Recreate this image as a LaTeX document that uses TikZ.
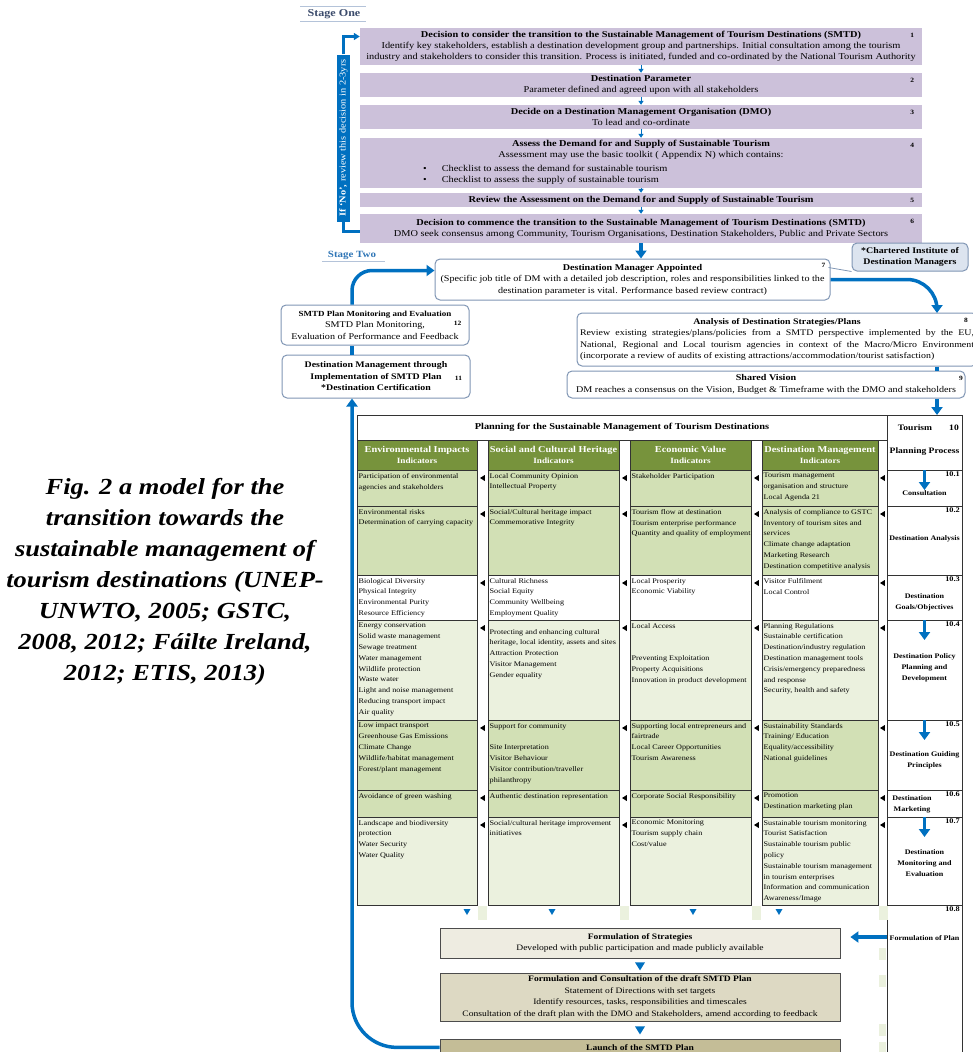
\documentclass[tikz,border=0pt]{standalone}
\usepackage{fontspec}
\setmainfont{Liberation Serif}[FakeStretch=1.15]
\usetikzlibrary{positioning,arrows.meta,calc}
\definecolor{cazul}{HTML}{0070C0}
\definecolor{clila}{HTML}{CCC1DA}
\definecolor{cborde}{HTML}{8096B4}
\definecolor{ccel}{HTML}{DCE4EF}
\definecolor{colivo}{HTML}{77933C}
\definecolor{cverdem}{HTML}{D2E0B5}
\definecolor{cverdec}{HTML}{EBF1DE}
\definecolor{cbeige1}{HTML}{EEECE1}
\definecolor{cbeige2}{HTML}{DDD9C3}
\definecolor{cbeige3}{HTML}{C4BD97}
\definecolor{cetapa}{HTML}{3B4B6B}
\definecolor{cazulc}{HTML}{2E75B6}
\definecolor{clinea}{HTML}{B4C3D9}
\tikzset{
  etapa/.style={rectangle, fill=clila, minimum width=562, inner sep=1pt, align=center,
    font=\fontsize{9}{11.2}\selectfont},
  num/.style={font=\fontsize{6.5}{7}\selectfont\bfseries, inner sep=0pt},
  caja/.style={rectangle, rounded corners=5pt, draw=cborde, line width=1pt, fill=white,
    inner sep=1pt, align=center, font=\fontsize{8.8}{11.5}\selectfont},
  barra/.style={rectangle, fill=cazul, text=white, rotate=90, minimum width=167,
    minimum height=13, inner sep=0pt, font=\fontsize{9}{9.5}\selectfont},
  lazo/.style={draw=cazul, line width=2.5pt},
  gruesa/.style={draw=cazul, line width=3.5pt},
  flechita/.style={-{Triangle[length=4pt,width=5pt]}, draw=cazul, line width=1pt},
  flechag/.style={gruesa, -{Triangle[length=8pt,width=11pt]}},
  flechap/.style={-{Triangle[length=8pt,width=11pt]}, draw=cazul, line width=3pt},
  celda/.style={rectangle, draw=black!80, line width=0.6pt, anchor=north west,
    inner sep=0pt, outer sep=0pt},
  celdatxt/.style={anchor=north west, align=left, inner xsep=1.5pt, inner ysep=3pt,
    font=\fontsize{7.1}{10.8}\selectfont},
  cab/.style={celda, fill=colivo, minimum height=30, text=white, align=center,
    font=\fontsize{9}{11}\selectfont\bfseries},
  pcelda/.style={celda, minimum width=75, fill=white},
  pnum/.style={anchor=north east, inner sep=2pt, font=\fontsize{7.2}{8}\selectfont\bfseries},
  ptxt/.style={align=center, inner sep=0pt, font=\fontsize{7}{11}\selectfont\bfseries},
  plan/.style={rectangle, draw=black!70, line width=0.8pt, minimum width=400, inner sep=1pt,
    align=center, font=\fontsize{8.3}{11.6}\selectfont},
  leyenda/.style={align=center, font=\fontsize{23}{31}\selectfont\bfseries\itshape},
  etiqueta/.style={font=\fontsize{9.5}{12}\selectfont\bfseries, inner sep=1pt},
}
\newcommand{\cabsub}[1]{{\fontsize{8}{9.5}\selectfont #1}}
% one row of indicator cells: id, top, height, fill, four texts
\newcommand{\fila}[8]{%
  \node[celda, fill=#4, minimum width=120, minimum height=#3] (#1a) at (357,#2) {};
  \node[celdatxt] (#1at) at (#1a.north west) {#5};
  \node[celda, fill=#4, minimum width=131, minimum height=#3] (#1b) at (488,#2) {};
  \node[celdatxt] (#1bt) at (#1b.north west) {#6};
  \node[celda, fill=#4, minimum width=121, minimum height=#3] (#1c) at (630,#2) {};
  \node[celdatxt] (#1ct) at (#1c.north west) {#7};
  \node[celda, fill=#4, minimum width=116, minimum height=#3] (#1d) at (762,#2) {};
  \node[celdatxt] (#1dt) at (#1d.north west) {#8};
  \foreach \gx in {482.5,624.5,756.5,882.5}
    \fill (\gx+2.3,#2+5) -- (\gx+2.3,#2+11) -- (\gx-2.5,#2+8) -- cycle;
}
% one cell of the planning process column
\newcommand{\paso}[4]{%
  \node[pcelda, minimum height=#3] (#1) at (887,#2) {};
  \node[pnum] (#1n) at (#1.north east) {#4};
}

\begin{document}
\begin{tikzpicture}[x=1pt,y=-1pt]
  \useasboundingbox (0,0) rectangle (973,1052);
  \clip (0,0) rectangle (973,1052);

  % Stage One
  \node[etiqueta, text=cetapa, font=\fontsize{10.5}{12}\selectfont\bfseries] (s1) at (334,14) {Stage One};
  \draw[clinea, line width=1pt] ($(s1.north west)+(-6,-2)$) -- ($(s1.north east)+(4,-2)$)
    ($(s1.south west)+(-6,2)$) -- ($(s1.south east)+(4,2)$);

  \node[etapa, minimum height=37] (b1) at (641,46.5) {\textbf{Decision to consider the transition to the Sustainable Management of Tourism Destinations (SMTD)}\\Identify key stakeholders, establish a destination development group and partnerships. Initial consultation among the tourism\\industry and stakeholders to consider this transition. Process is initiated, funded and co-ordinated by the National Tourism Authority};
  \node[etapa, minimum height=24] (b2) at (641,85) {\textbf{Destination Parameter}\\Parameter defined and agreed upon with all stakeholders};
  \node[etapa, minimum height=24] (b3) at (641,117) {\textbf{Decide on a Destination Management Organisation (DMO)}\\To lead and co-ordinate};
  \node[etapa, minimum height=50] (b4) at (641,163) {};
  \node[anchor=north, inner sep=0pt, align=center, font=\fontsize{9}{11.2}\selectfont] (b4t) at ($(b4.north)+(0,2)$) {\textbf{Assess the Demand for and Supply of Sustainable Tourism}\\Assessment may use the basic toolkit ( Appendix N) which contains:};
  \node[anchor=west, inner sep=0pt, font=\fontsize{9}{11.2}\selectfont] (b4a) at (423,168) {\textbullet\hspace{15pt}Checklist to assess the demand for sustainable tourism};
  \node[anchor=west, inner sep=0pt, font=\fontsize{9}{11.2}\selectfont] (b4b) at (423,180.5) {\textbullet\hspace{15pt}Checklist to assess the supply of sustainable tourism};
  \node[etapa, minimum height=14] (b5) at (641,200) {\textbf{Review the Assessment on the Demand for and Supply of Sustainable Tourism}};
  \node[etapa, minimum height=29] (b6) at (641,228.5) {\textbf{Decision to commence the transition to the Sustainable Management of Tourism Destinations (SMTD)}\\DMO seek consensus among Community, Tourism Organisations, Destination Stakeholders, Public and Private Sectors};
  \foreach \b/\n in {b1/1,b2/2,b3/3,b4/4,b5/5,b6/6}
    \node[num] (n\n) at ($(\b.north east)+(-10,8)$) {\n};
  \foreach \a/\b in {b1/b2,b2/b3,b3/b4,b4/b5,b5/b6}
    \draw[flechita] (\a.south) -- (\b.north);

  % review loop
  \node[barra] (rev) at (343.5,138) {\textbf{If `No',} review this decision in 2-3yrs};
  \draw[lazo, -{Triangle[length=6pt,width=7pt]}] (rev.east) |- ($(b1.west)+(0,-10)$);
  \draw[lazo] (rev.west) |- ($(b6.west)+(0,3)$);

  % Stage Two
  \node[etiqueta, text=cazulc] (s2) at (352,255) {Stage Two};
  \draw[clinea, line width=1pt] ($(s2.south west)+(-5,1)$) -- ($(s2.south east)+(8,1)$);

  \node[caja, minimum width=395, minimum height=41] (b7) at (632.5,279.5) {\textbf{Destination Manager Appointed}\\(Specific job title of DM with a detailed job description, roles and responsibilities linked to the\\destination parameter is vital. Performance based review contract)};
  \node[num] (n7) at ($(b7.north east)+(-7,7)$) {7};
  \node[caja, fill=ccel, minimum width=116, minimum height=28, font=\fontsize{8.6}{11.5}\selectfont\bfseries] (cI) at (910,257) {*Chartered Institute of\\Destination Managers};
  \draw[cborde, line width=0.8pt] ($(b7.north east)+(-2,9)$) -- (cI.south west);

  \node[caja, minimum width=400, minimum height=53, font=\fontsize{8.6}{11.5}\selectfont] (b8) at (777,339.5) {\textbf{Analysis of Destination Strategies/Plans}\\\makebox[394pt][s]{Review existing strategies/plans/policies from a SMTD perspective implemented by the EU,}\\\makebox[394pt][s]{National, Regional and Local tourism agencies in context of the Macro/Micro Environment}\\\makebox[394pt][l]{(incorporate a review of audits of existing attractions/accommodation/tourist satisfaction)}};
  \node[num] (n8) at (966,320) {8};
  \node[caja, minimum width=398, minimum height=27] (b9) at (766,384.5) {\textbf{Shared Vision}\\DM reaches a consensus on the Vision, Budget \& Timeframe with the DMO and stakeholders};
  \node[num] (n9) at (961,378) {9};

  \node[caja, minimum width=188, minimum height=40] (b12) at (375,325) {{\fontsize{7.8}{11.5}\selectfont\bfseries SMTD Plan Monitoring and Evaluation}\\SMTD Plan Monitoring,\\Evaluation of Performance and Feedback};
  \node[num] (n12) at ($(b12.east)+(-12,-2)$) {12};
  \node[caja, minimum width=188, minimum height=43, font=\fontsize{8.6}{11.5}\selectfont\bfseries] (b11) at (376,376.5) {Destination Management through\\Implementation of SMTD Plan\\*Destination Certification};
  \node[num] (n11) at ($(b11.east)+(-12,1.5)$) {11};

  \coordinate (xl) at (352,0);
  \coordinate (e7) at ($(b7.west)+(0,-9)$);
  \coordinate (e8) at (937,313);
  \draw[flechag] (b6.south) -- (b6.south |- b7.north);
  \draw[flechag, rounded corners=30pt] (b7.east) -| (e8);
  \draw[gruesa] (b8.south -| e8) -- (b9.north -| e8);
  \draw[flechag, rounded corners=20pt] (b12.north -| xl) |- (e7);
  \draw[gruesa] (b11.north -| xl) -- (b12.south -| xl);

  % planning table
  \node[celda, minimum width=530, minimum height=25] (tit) at (357,415) {};
  \node[font=\fontsize{9}{11}\selectfont\bfseries] (titt) at (tit.center) {Planning for the Sustainable Management of Tourism Destinations};
  \node[pcelda, minimum height=55] (p0) at (887,415) {};
  \node[ptxt, font=\fontsize{8.3}{11}\selectfont\bfseries] (p0a) at (915,428) {Tourism};
  \node[ptxt, font=\fontsize{8.3}{11}\selectfont\bfseries] (p0b) at (954,428) {10};
  \node[ptxt, font=\fontsize{8.3}{11}\selectfont\bfseries] (p0c) at (924.5,452) {Planning Process};
  \draw[flechag] (b9.south -| e8) -- (p0.north -| e8);

  \node[cab, minimum width=120] (ha) at (357,440) {Environmental Impacts\\\cabsub{Indicators}};
  \node[cab, minimum width=131] (hb) at (488,440) {Social and Cultural Heritage\\\cabsub{Indicators}};
  \node[cab, minimum width=121] (hc) at (630,440) {Economic Value\\\cabsub{Indicators}};
  \node[cab, minimum width=116] (hd) at (762,440) {Destination Management\\\cabsub{Indicators}};

  \fila{r1}{470}{36}{cverdem}
    {Participation of environmental\\agencies and stakeholders}
    {Local Community Opinion\\Intellectual Property}
    {Stakeholder Participation}
    {Tourism management\\organisation and structure\\Local Agenda 21}
  \fila{r2}{506}{69}{cverdem}
    {Environmental risks\\Determination of carrying capacity}
    {Social/Cultural heritage impact\\Commemorative Integrity}
    {Tourism flow at destination\\Tourism enterprise performance\\Quantity and quality of employment}
    {Analysis of compliance to GSTC\\Inventory of tourism sites and\\services\\Climate change adaptation\\Marketing Research\\Destination competitive analysis}
  \fila{r3}{575}{45}{white}
    {Biological Diversity\\Physical Integrity\\Environmental Purity\\Resource Efficiency}
    {Cultural Richness\\Social Equity\\Community Wellbeing\\Employment Quality}
    {Local Prosperity\\Economic Viability}
    {Visitor Fulfilment\\Local Control}
  \fila{r4}{620}{100}{cverdec}
    {Energy conservation\\Solid waste management\\Sewage treatment\\Water management\\Wildlife protection\\Waste water\\Light and noise management\\Reducing transport impact\\Air quality}
    {\mbox{}\\Protecting and enhancing cultural\\heritage, local identity, assets and sites\\Attraction Protection\\Visitor Management\\Gender equality}
    {Local Access\\\mbox{}\\\mbox{}\\Preventing Exploitation\\Property Acquisitions\\Innovation in product development}
    {Planning Regulations\\Sustainable certification\\Destination/industry regulation\\Destination management tools\\Crisis/emergency preparedness\\and response\\Security, health and safety}
  \fila{r5}{720}{70}{cverdem}
    {Low impact transport\\Greenhouse Gas Emissions\\Climate Change\\Wildlife/habitat management\\Forest/plant management}
    {Support for community\\\mbox{}\\Site Interpretation\\Visitor Behaviour\\Visitor contribution/traveller\\philanthropy}
    {Supporting local entrepreneurs and\\fairtrade\\Local Career Opportunities\\Tourism Awareness}
    {Sustainability Standards\\Training/ Education\\Equality/accessibility\\National guidelines}
  \fila{r6}{790}{27}{cverdem}
    {Avoidance of green washing}
    {Authentic destination representation}
    {Corporate Social Responsibility}
    {Promotion\\Destination marketing plan}
  \fila{r7}{817}{88}{cverdec}
    {Landscape and biodiversity\\protection\\Water Security\\Water Quality}
    {Social/cultural heritage improvement\\initiatives}
    {Economic Monitoring\\Tourism supply chain\\Cost/value}
    {Sustainable tourism monitoring\\Tourist Satisfaction\\Sustainable tourism public\\policy\\Sustainable tourism management\\in tourism enterprises\\Information and communication\\Awareness/Image}

  % planning process column
  \paso{p1}{470}{36}{10.1}
  \node[ptxt] (p1t) at (924.5,493) {Consultation};
  \paso{p2}{506}{69}{10.2}
  \node[ptxt] (p2t) at (924.5,539) {Destination Analysis};
  \paso{p3}{575}{45}{10.3}
  \node[ptxt] (p3t) at (924.5,602) {Destination\\Goals/Objectives};
  \paso{p4}{620}{100}{10.4}
  \node[ptxt] (p4t) at (924.5,668) {Destination Policy\\Planning and\\Development};
  \paso{p5}{720}{70}{10.5}
  \node[ptxt] (p5t) at (924.5,760) {Destination Guiding\\Principles};
  \paso{p6}{790}{27}{10.6}
  \node[ptxt] (p6t) at (912,804) {Destination\\Marketing};
  \paso{p7}{817}{88}{10.7}
  \node[ptxt] (p7t) at (924.5,863) {Destination\\Monitoring and\\Evaluation};
  \paso{p8}{905}{160}{10.8}
  \node[ptxt] (p8t) at (924.5,938) {Formulation of Plan};
  \foreach \p in {p1,p4,p5,p7}
    \draw[flechap] (\p.north) -- ++(0,20);

  % column ends
  \foreach \gx in {477,619,751,878}
    \fill[cverdec] (\gx+0.8,906) rectangle (\gx+10,920);
  \foreach \gy in {948,975,1024,1042}
    \fill[cverdec] (878.8,\gy) rectangle (886,\gy+12);
  \foreach \tx in {467,552,693,779}
    \fill[cazul] (\tx-3.5,909) -- (\tx+3.5,909) -- (\tx,915) -- cycle;

  % formulation of the plan
  \node[plan, fill=cbeige1, minimum height=30] (fs) at (640,943) {\textbf{Formulation of Strategies}\\Developed with public participation and made publicly available};
  \node[plan, fill=cbeige2, minimum height=48] (fc) at (640,997) {\textbf{Formulation and Consultation of the draft SMTD Plan}\\Statement of Directions with set targets\\Identify resources, tasks, responsibilities and timescales\\Consultation of the draft plan with the DMO and Stakeholders, amend according to feedback};
  \node[plan, fill=cbeige3, minimum height=16, anchor=north] (fl) at (640,1039) {\textbf{Launch of the SMTD Plan}};
  \fill[cazul] ($(fs.south)+(-5,4)$) -- ++(10,0) -- ++(-5,8) -- cycle;
  \fill[cazul] ($(fc.south)+(-5,5)$) -- ++(10,0) -- ++(-5,8) -- cycle;
  \coordinate (ef) at ($(fs.east)+(10,-6)$);
  \draw[flechag] (p8.west |- ef) -- (ef);
  \draw[flechag, rounded corners=45pt] (fl.west) -| (b11.south -| xl);

  % caption
  \node[leyenda] (ley) at (165,582) {Fig. 2 a model for the\\transition towards the\\sustainable management of\\tourism destinations (UNEP-\\UNWTO, 2005; GSTC,\\2008, 2012; Fáilte Ireland,\\2012; ETIS, 2013)};
\end{tikzpicture}
\end{document}
